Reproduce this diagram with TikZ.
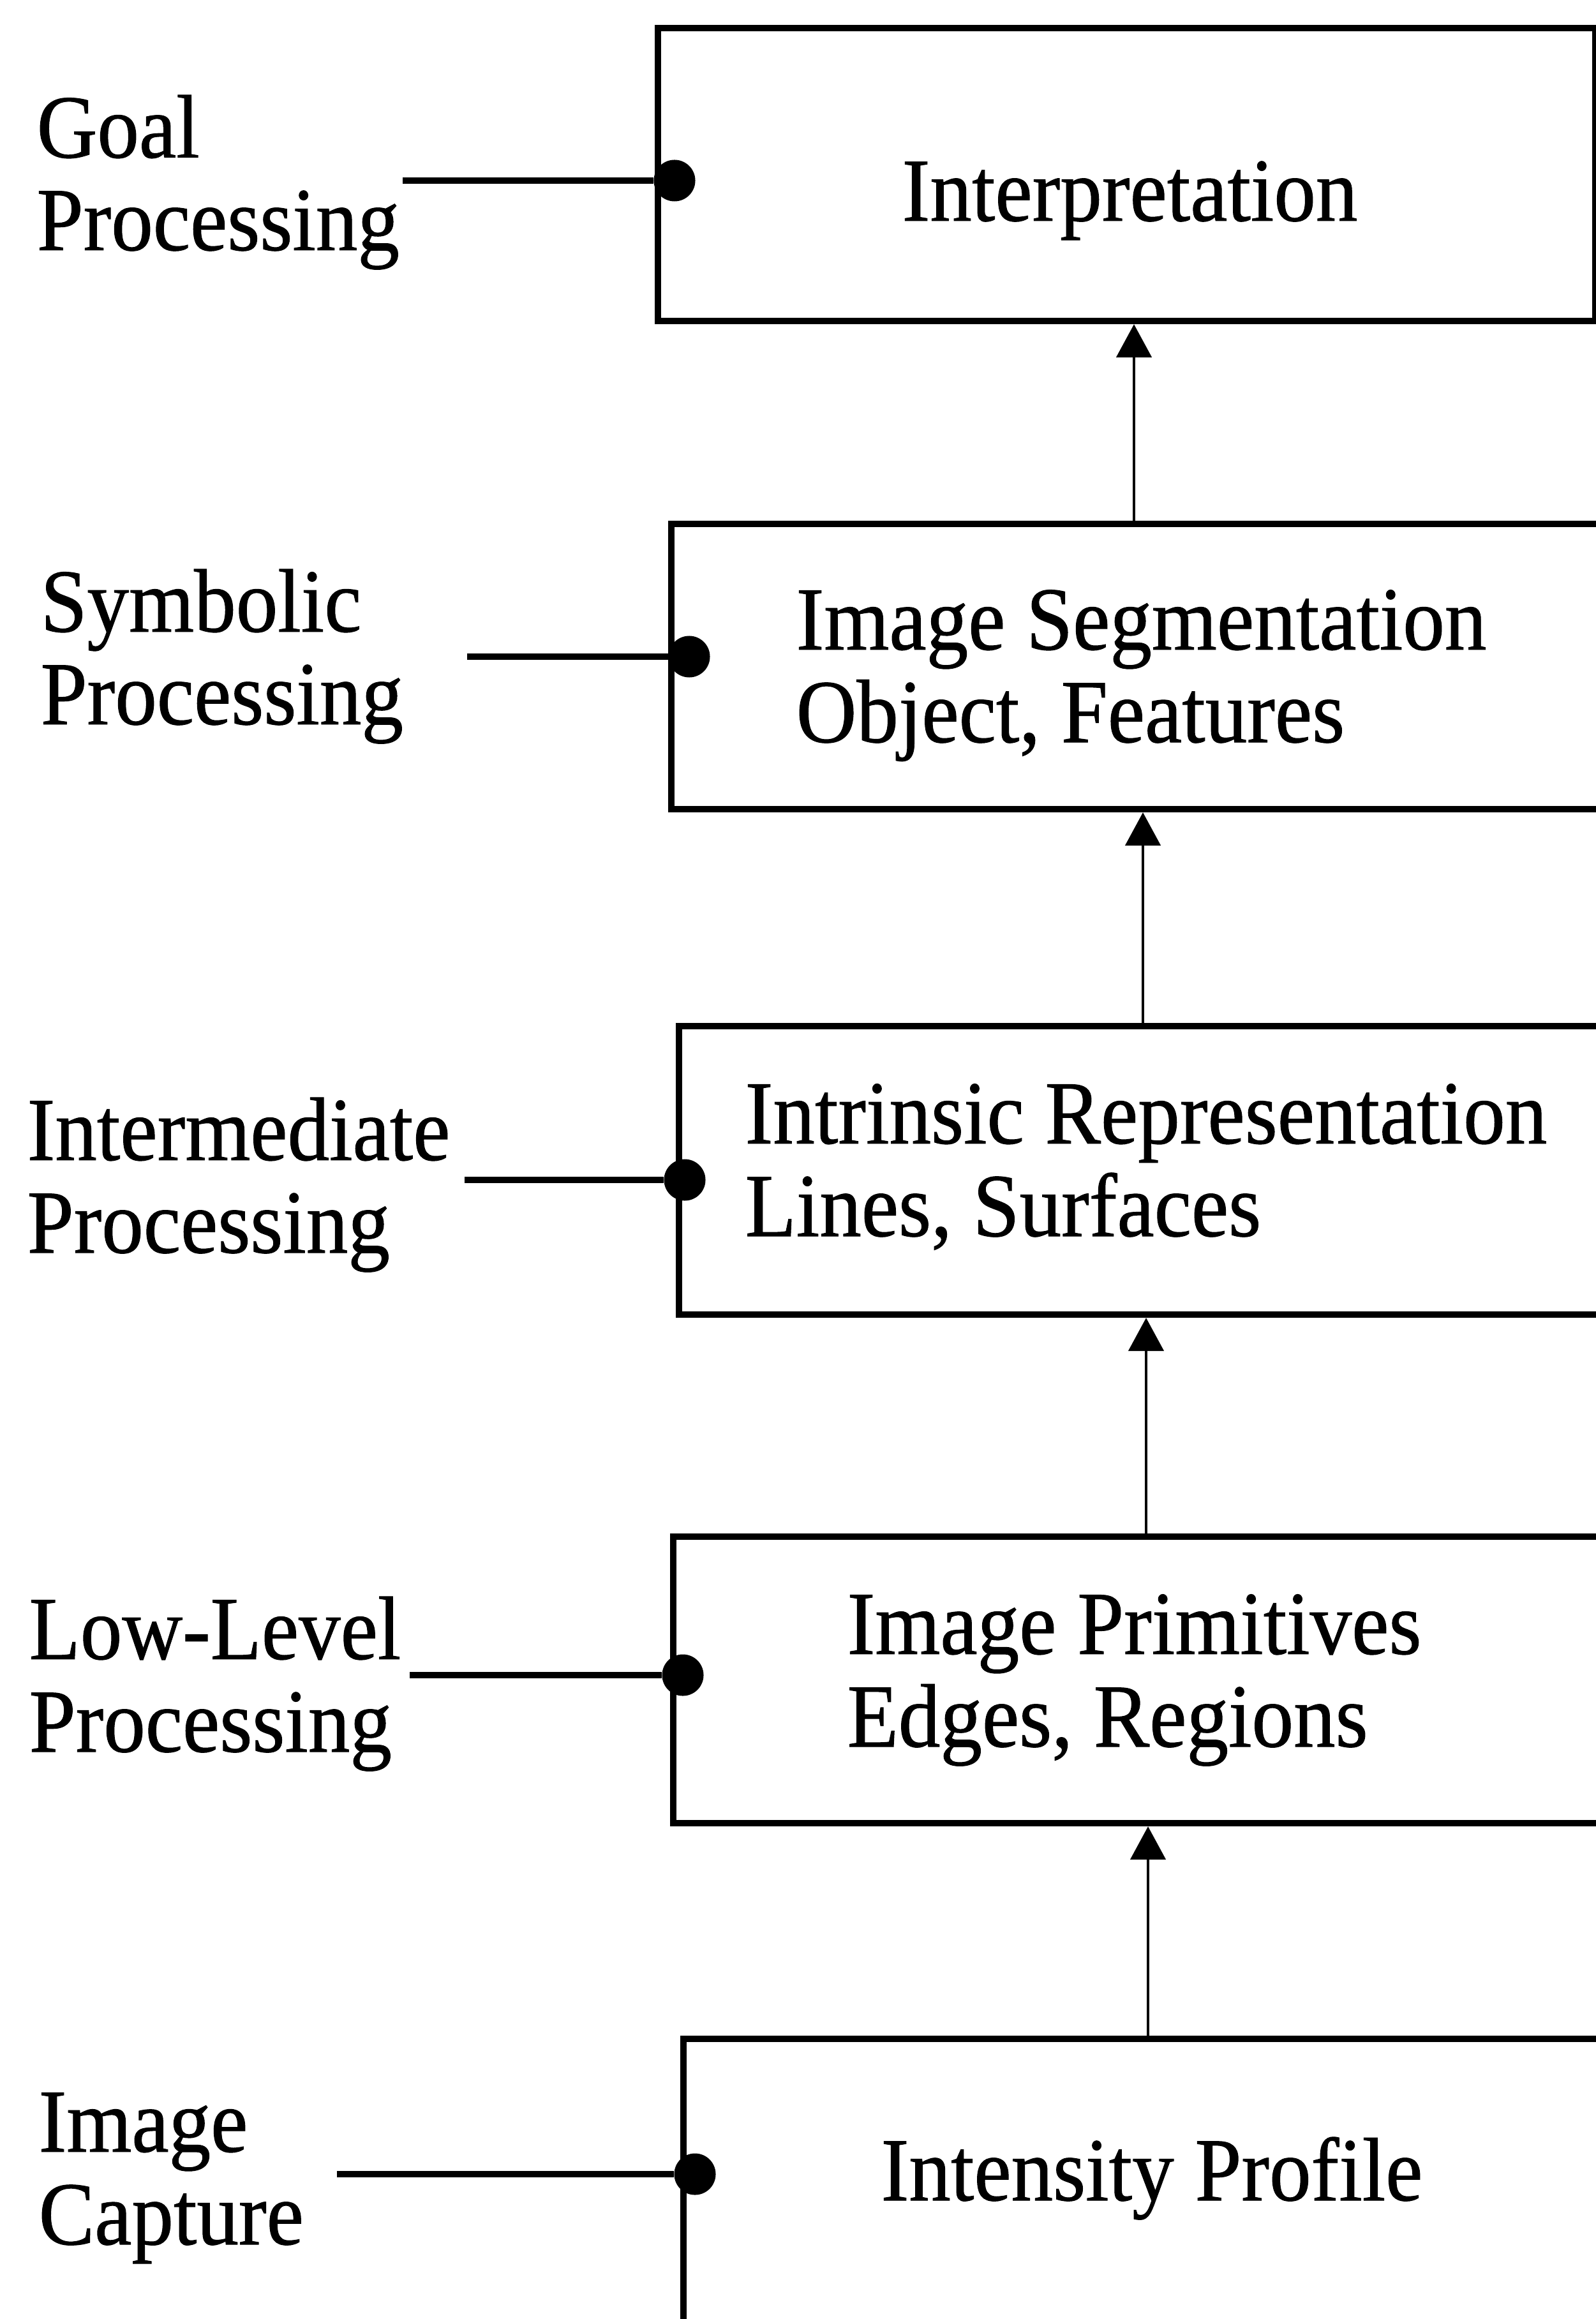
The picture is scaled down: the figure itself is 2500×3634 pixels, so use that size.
\documentclass[tikz,border=0pt]{standalone}
\usepackage{fontspec}
\setmainfont[FakeStretch=0.93,FakeBold=0.7]{Liberation Serif}
\usetikzlibrary{arrows.meta}
\begin{document}
\begin{tikzpicture}[x=0.01cm, y=-0.01cm,
  every node/.style={font=\fontsize{40.1pt}{41.3pt}\selectfont},
  stage/.style={draw, line width=2.8pt, inner sep=0pt, anchor=north west},
  lbl/.style={align=left, anchor=base west, inner sep=0pt},
  tap/.style={circle, fill, inner sep=0pt, minimum size=0.65cm},
  lead/.style={line width=2.8pt},
  up/.style={line width=1.4pt, -{Triangle[length=0.52cm,width=0.55cm]}}]

\useasboundingbox (0,0) rectangle (2500,3634);

% processing stages
\node[stage, minimum width=14.68cm, minimum height=4.59cm] (interp) at (1026,39) {};
\node[stage, minimum width=15.13cm, minimum height=4.47cm] (segm)   at (1047,816) {};
\node[stage, minimum width=15.01cm, minimum height=4.52cm] (intr)   at (1059,1603) {};
\node[stage, minimum width=15.10cm, minimum height=4.49cm] (prim)   at (1050,2403) {};
\node[stage, minimum width=14.94cm, minimum height=5.60cm] (inten)  at (1066,3190) {};

% stage contents (multi-line nodes are placed by the baseline of their last line)
\node[lbl] (tinterp) at (1413,346)  {Interpretation};
\node[lbl] (tsegm)   at (1247,1163) {Image Segmentation\\Object, Features};
\node[lbl] (tintr)   at (1167,1937) {Intrinsic Representation\\Lines, Surfaces};
\node[lbl] (tprim)   at (1327,2737) {Image Primitives\\Edges, Regions};
\node[lbl] (tinten)  at (1380,3448) {Intensity Profile};

% level names
\node[lbl] (lgoal) at (57,392)  {Goal\\Processing};
\node[lbl] (lsym)  at (63,1135) {Symbolic\\Processing};
\node[lbl] (lint)  at (42,1963) {Intermediate\\Processing};
\node[lbl] (llow)  at (45,2745) {Low-Level\\Processing};
\node[lbl] (lcap)  at (60,3517) {Image\\Capture};

% attachment dots
\node[tap] (dgoal) at (1057,283)  {};
\node[tap] (dsym)  at (1080,1029) {};
\node[tap] (dint)  at (1073,1849) {};
\node[tap] (dlow)  at (1070,2625) {};
\node[tap] (dcap)  at (1089,3407) {};

% leader lines
\coordinate (egoal) at (631,283);
\coordinate (esym)  at (732,1029);
\coordinate (eint)  at (728,1849);
\coordinate (elow)  at (642,2625);
\coordinate (ecap)  at (528,3407);
\draw[lead] (egoal) -- (dgoal);
\draw[lead] (esym)  -- (dsym);
\draw[lead] (eint)  -- (dint);
\draw[lead] (elow)  -- (dlow);
\draw[lead] (ecap)  -- (dcap);

% bottom-up flow
\draw[up] (segm.north -| 1777,0)  -- (interp.south -| 1777,0);
\draw[up] (intr.north -| 1791,0)  -- (segm.south -| 1791,0);
\draw[up] (prim.north -| 1796,0)  -- (intr.south -| 1796,0);
\draw[up] (inten.north -| 1799,0) -- (prim.south -| 1799,0);
\end{tikzpicture}
\end{document}
